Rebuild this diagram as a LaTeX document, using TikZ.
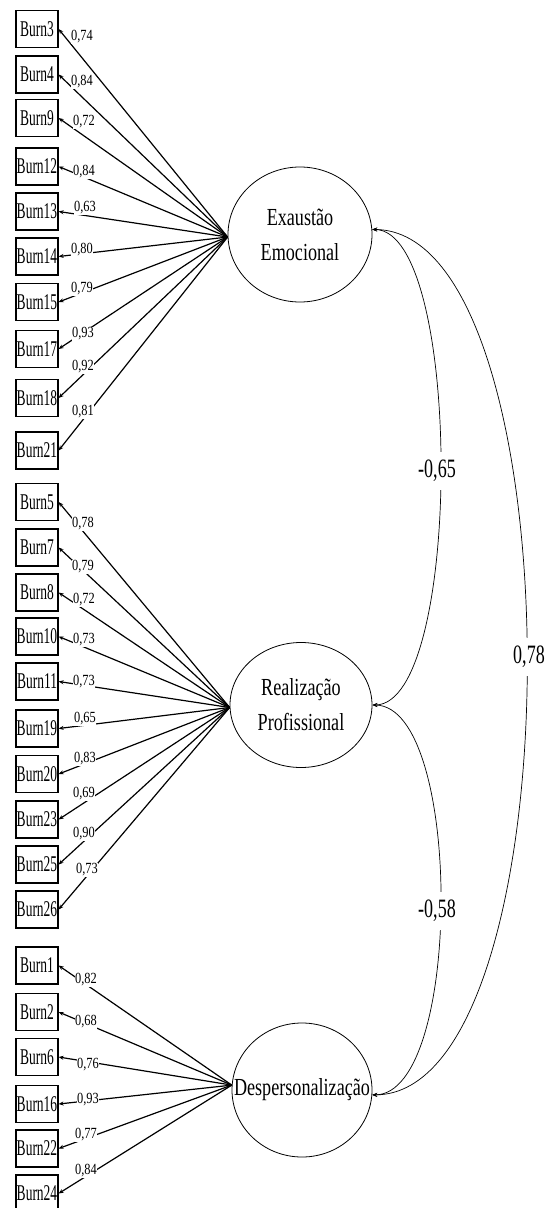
\documentclass[tikz,border=0pt]{standalone}
\usepackage{fontspec}
\setmainfont{Liberation Serif}
\usetikzlibrary{arrows.meta,shapes.geometric}
\newcommand{\bxt}[1]{\scalebox{0.6}[1]{#1}}
\newcommand{\lbt}[1]{\scalebox{0.8}[1]{#1}}
\newcommand{\lvt}[1]{\scalebox{0.74}[1]{#1}}
\newcommand{\cvt}[1]{\scalebox{0.68}[1]{#1}}
\tikzset{
  ind/.style={draw, rectangle, line width=1.2pt, minimum width=42pt, minimum height=37pt, inner sep=0pt, font=\fontsize{22.5}{22.5}\selectfont},
  lat/.style={draw, ellipse, line width=0.8pt, inner sep=0pt, align=center, font=\fontsize{24.5}{35}\selectfont},
  load/.style={line width=1.2pt, -{Stealth[length=5pt,width=4pt]}},
  cov/.style={line width=0.7pt, {Stealth[length=5pt,width=4pt]}-{Stealth[length=5pt,width=4pt]}},
  lab/.style={fill=white, inner sep=0.6pt, font=\fontsize{15.5}{15.5}\selectfont},
  clab/.style={fill=white, inner xsep=1pt, inner ysep=8pt, font=\fontsize{26.5}{26.5}\selectfont}
}
\def\indata{3/29/82/37/0{,}74/EE/182, 4/74.5/82/82/0{,}84/EE/182, 9/118/84/122/0{,}72/EE/182,
 12/166.5/84/172/0{,}84/EE/182, 13/211.5/85/208/0{,}63/EE/182, 14/256.5/82/250/0{,}80/EE/182,
 15/302/82/289/0{,}79/EE/182, 17/349/83/334/0{,}93/EE/182, 18/398/83/367/0{,}92/EE/182,
 21/450.5/83/412/0{,}81/EE/182,
 5/502/83/524/0{,}78/RP/182, 7/547.5/83/567/0{,}79/RP/182, 8/592.5/84/600/0{,}72/RP/182,
 10/636.5/84/640/0{,}73/RP/182, 11/681.5/84/682/0{,}73/RP/182, 19/728.5/85/719/0{,}65/RP/182,
 20/774/85/759/0{,}83/RP/182, 23/819.5/84/794/0{,}69/RP/182, 25/864.5/84/834/0{,}90/RP/182,
 26/909.5/87/870/0{,}73/RP/182,
 1/965.5/86/980/0{,}82/DP/176, 2/1012/86/1022/0{,}68/DP/176, 6/1057/88/1065/0{,}76/DP/176,
 16/1104/88/1100/0{,}93/DP/176, 22/1148.5/86/1135/0{,}77/DP/176, 24/1193.5/86/1171/0{,}84/DP/176}
\begin{document}
\begin{tikzpicture}[x=1pt, y=-1pt]
\useasboundingbox (0,0) rectangle (550,1208);
\node[lat, minimum width=144pt, minimum height=135pt] (EE) at (300,234.5) {\lvt{Exaustão}\\\lvt{Emocional}};
\node[lat, minimum width=142pt, minimum height=125pt] (RP) at (301,705) {\lvt{Realização}\\\lvt{Profissional}};
\node[lat, minimum width=140pt, minimum height=134pt] (DP) at (302,1090) {\raisebox{-3pt}{\makebox[0pt]{\lvt{Despersonalização}}}};
\foreach \n/\y/\lx/\ly/\v/\f/\a in \indata {
  \node[ind] (b\n) at (37,\y) {\bxt{Burn\n}};
  \draw[load] (\f.\a) -- (b\n.east);
}
\foreach \n/\y/\lx/\ly/\v/\f/\a in \indata {
  \node[lab] (l\n) at (\lx,\ly) {\lbt{\v}};
}
\draw[cov] (EE.4) .. controls (463,231) and (463,704) .. (RP.east);
\draw[cov] (RP.east) .. controls (463,706) and (463,1094) .. (DP.-4);
\draw[cov] (EE.4) .. controls (578,231) and (578,1094) .. (DP.-4);
\node[clab] (c1) at (437,471) {\cvt{-0,65}};
\node[clab] (c2) at (437,911) {\cvt{-0,58}};
\node[clab] (c3) at (529,657) {\cvt{0,78}};
\end{tikzpicture}
\end{document}
